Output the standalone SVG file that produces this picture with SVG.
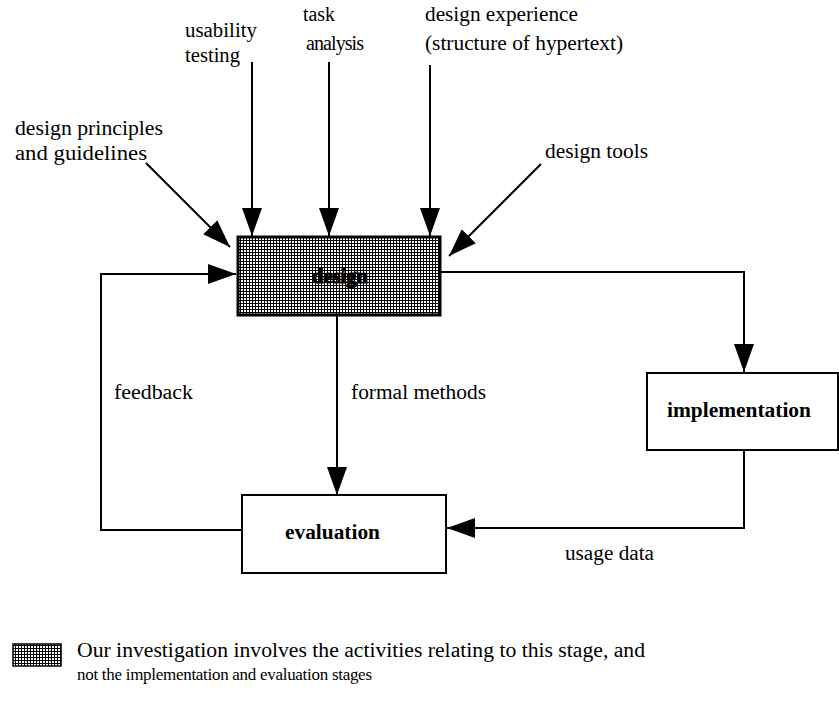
<svg xmlns="http://www.w3.org/2000/svg" width="839" height="704" viewBox="0 0 839 704">
<style>
text{font-size:20px;fill:#000}
.b{font-weight:bold}
.sm{font-size:17px}
.ln{fill:none;stroke:#000;stroke-width:2}
.box{fill:#fff;stroke:#000;stroke-width:2}
</style>
<defs>
<pattern id="hatch" width="3" height="3" patternUnits="userSpaceOnUse">
<rect width="3" height="3" fill="#fff"/>
<rect width="1" height="3" fill="#000"/>
<rect width="3" height="1" fill="#000"/>
</pattern>
<marker id="ah" markerUnits="userSpaceOnUse" markerWidth="28" markerHeight="20" refX="28" refY="10" orient="auto">
<path d="M0,0 L28,10 L0,20 Z" fill="#000"/>
</marker>
</defs>
<rect width="839" height="704" fill="#fff"/>

<g id="connectors">
<line class="ln" x1="252" y1="62" x2="252" y2="236" marker-end="url(#ah)"/>
<line class="ln" x1="329" y1="62" x2="329" y2="236" marker-end="url(#ah)"/>
<line class="ln" x1="430" y1="65" x2="430" y2="236" marker-end="url(#ah)"/>
<line class="ln" x1="146" y1="163" x2="230" y2="247" marker-end="url(#ah)"/>
<line class="ln" x1="541" y1="164" x2="449" y2="256" marker-end="url(#ah)"/>
<polyline class="ln" points="242,530 101,530 101,274 236,274" marker-end="url(#ah)"/>
<line class="ln" x1="337" y1="316" x2="337" y2="495" marker-end="url(#ah)"/>
<polyline class="ln" points="441,272 744,272 744,372" marker-end="url(#ah)"/>
<polyline class="ln" points="744,450 744,528 447,528" marker-end="url(#ah)"/>
</g>

<g id="labels" font-family="'Liberation Serif', 'Times New Roman', 'DejaVu Serif', serif">
<text x="185" y="37" textLength="72" lengthAdjust="spacingAndGlyphs">usability</text>
<text x="185" y="62" textLength="55" lengthAdjust="spacingAndGlyphs">testing</text>
<text x="303" y="21" textLength="32" lengthAdjust="spacingAndGlyphs">task</text>
<text x="306" y="50" textLength="58" lengthAdjust="spacing">analysis</text>
<text x="425" y="21" textLength="153" lengthAdjust="spacingAndGlyphs">design experience</text>
<text x="425" y="50" textLength="198" lengthAdjust="spacingAndGlyphs">(structure of hypertext)</text>
<text x="15" y="135" textLength="148" lengthAdjust="spacingAndGlyphs">design principles</text>
<text x="15" y="160" textLength="132" lengthAdjust="spacingAndGlyphs">and guidelines</text>
<text x="545" y="158" textLength="103" lengthAdjust="spacingAndGlyphs">design tools</text>
<text x="114" y="399" textLength="79" lengthAdjust="spacingAndGlyphs">feedback</text>
<text x="351" y="399" textLength="135" lengthAdjust="spacingAndGlyphs">formal methods</text>
<text x="565" y="560" textLength="89" lengthAdjust="spacingAndGlyphs">usage data</text>
</g>

<g id="design" font-family="'Liberation Serif', 'Times New Roman', 'DejaVu Serif', serif">
<rect x="238" y="237" width="202" height="78" fill="url(#hatch)" stroke="#000" stroke-width="3"/>
<text class="b" x="312" y="283" textLength="56" lengthAdjust="spacingAndGlyphs" stroke="#000" stroke-width="1.2">design</text>
</g>

<g id="implementation" font-family="'Liberation Serif', 'Times New Roman', 'DejaVu Serif', serif">
<rect class="box" x="647" y="373" width="191" height="77"/>
<text class="b" x="667" y="417" textLength="144" lengthAdjust="spacingAndGlyphs">implementation</text>
</g>

<g id="evaluation" font-family="'Liberation Serif', 'Times New Roman', 'DejaVu Serif', serif">
<rect class="box" x="242" y="495" width="204" height="78"/>
<text class="b" x="285" y="539" textLength="95" lengthAdjust="spacingAndGlyphs">evaluation</text>
</g>

<g id="legend" font-family="'Liberation Serif', 'Times New Roman', 'DejaVu Serif', serif">
<rect x="13" y="644" width="48" height="22" fill="url(#hatch)" stroke="#000" stroke-width="1.5"/>
<text x="77" y="657" textLength="568" lengthAdjust="spacingAndGlyphs">Our investigation involves the activities relating to this stage, and</text>
<text class="sm" x="77" y="680" textLength="295" lengthAdjust="spacing">not the implementation and evaluation stages</text>
</g>
</svg>
